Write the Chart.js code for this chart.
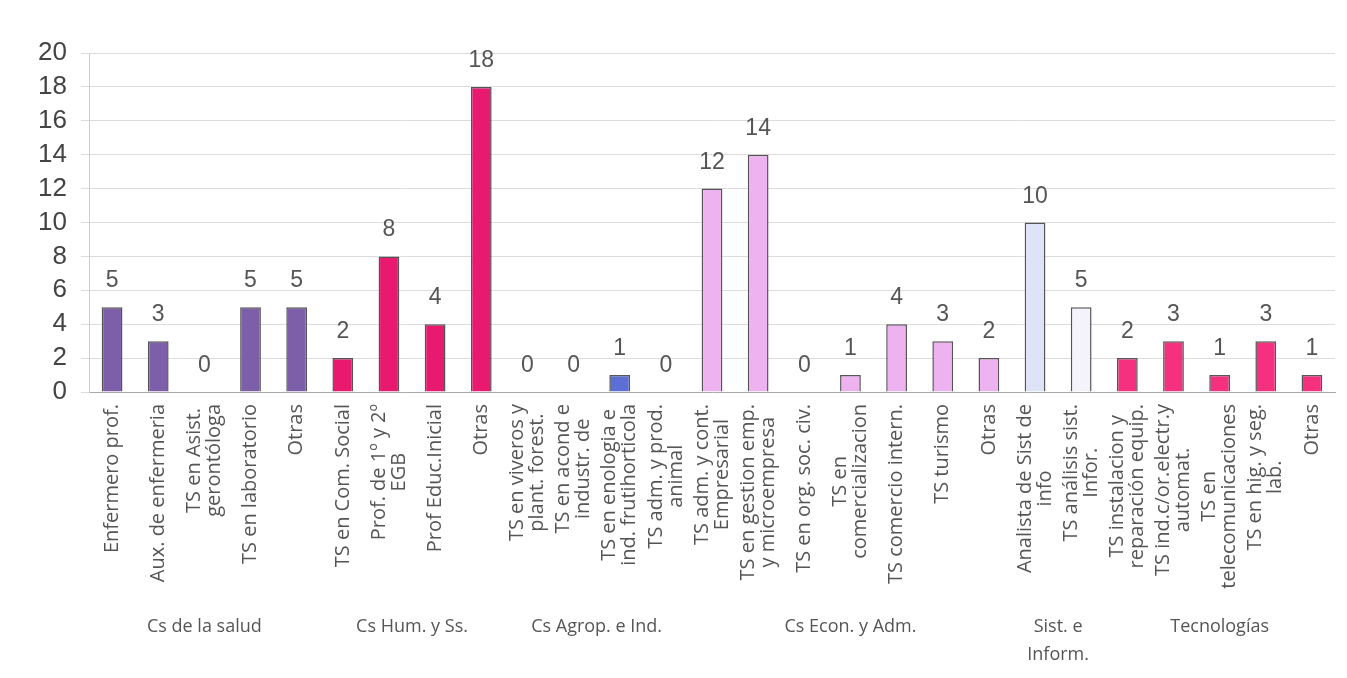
<!DOCTYPE html>
<html lang="es">
<head>
  <meta charset="UTF-8" />
  <title>Carreras por area</title>
  <script src="https://cdn.jsdelivr.net/npm/chart.js"></script>
  <style>
    body {
      margin: 0;
      background: #fff;
    }
    .chart-wrap {
      width: 1347px;
      height: 678px;
      position: relative;
    }
  </style>
</head>
<body>
  <div class="chart-wrap">
    <canvas id="areasChart"></canvas>
  </div>

  <script>
    // categorias (etiquetas del eje x, con saltos de linea como en el original)
    const categories = [
      'Enfermero prof.', 'Aux. de enfermeria', ['TS en Asist.', 'gerontóloga'], 'TS en laboratorio', 'Otras',
      'TS en Com. Social', ['Prof. de 1º y 2º', 'EGB'], 'Prof Educ.Inicial', 'Otras',
      ['TS en viveros y', 'plant. forest.'], ['TS en acond e', 'industr. de'], ['TS en enologia e', 'ind. frutihorticola'], ['TS adm. y prod.', 'animal'],
      ['TS adm. y cont.', 'Empresarial'], ['TS en gestion emp.', 'y microempresa'], 'TS en org. soc. civ.', ['TS en', 'comercializacion'], 'TS comercio intern.', 'TS turismo', 'Otras',
      ['Analista de Sist de', 'info'], ['TS análisis sist.', 'Infor.'],
      ['TS instalacion y', 'reparación equip.'], ['TS ind.c/or.electr.y', 'automat.'], ['TS en', 'telecomunicaciones'], ['TS en hig. y seg.', 'lab.'], 'Otras'
    ];
    const values = [5, 3, 0, 5, 5, 2, 8, 4, 18, 0, 0, 1, 0, 12, 14, 0, 1, 4, 3, 2, 10, 5, 2, 3, 1, 3, 1];
    const groups = ['Cs de la salud', 'Cs Hum. y Ss.', 'Cs Agrop. e Ind.', 'Cs Econ. y Adm.', ['Sist. e', 'Inform.'], 'Tecnologías'];
    const groupSizes = [5, 4, 4, 7, 2, 5];
    const yTicks = [0, 2, 4, 6, 8, 10, 12, 14, 16, 18, 20];

    // colores por barra
    const fills = [
      '#7d5fa9', '#7d5fa9', '#7d5fa9', '#7d5fa9', '#7d5fa9',
      '#e9196f', '#e9196f', '#e9196f', '#e9196f',
      '#5b6fd6', '#5b6fd6', '#5b6fd6', '#5b6fd6',
      '#eeb2f1', '#eeb2f1', '#eeb2f1', '#eeb2f1', '#eeb2f1', '#eeb2f1', '#eeb2f1',
      '#dfe3f7', '#f4f2fa',
      '#f5307e', '#f5307e', '#f5307e', '#f5307e', '#f5307e'
    ];
    const borders = fills.map(c => '#555');

    const valueLabels = {
      id: 'valueLabels',
      afterDatasetsDraw(chart) {
        const ctx = chart.ctx;
        const meta = chart.getDatasetMeta(0);
        ctx.save();
        ctx.font = '23px "Liberation Sans"';
        ctx.fillStyle = '#555';
        ctx.textAlign = 'center';
        ctx.textBaseline = 'alphabetic';
        meta.data.forEach((bar, i) => {
          ctx.fillText(String(values[i]), bar.x, bar.y - 20);
        });
        ctx.restore();
      }
    };

    // etiquetas verticales: lineas centradas entre si, bloque pegado al eje
    const categoryLabels = {
      id: 'categoryLabels',
      afterDraw(chart) {
        const ctx = chart.ctx;
        const xs = chart.scales.x;
        const top = chart.chartArea.bottom + 12;
        const lineH = 20;
        ctx.save();
        ctx.font = '20px "Open Sans"';
        ctx.fillStyle = '#555';
        ctx.textAlign = 'center';
        ctx.textBaseline = 'middle';
        categories.forEach((c, i) => {
          const lines = Array.isArray(c) ? c : [c];
          const w = Math.max(...lines.map(l => ctx.measureText(l).width));
          const x = xs.getPixelForValue(i);
          lines.forEach((line, j) => {
            ctx.save();
            ctx.translate(x + (j - (lines.length - 1) / 2) * lineH, top + w / 2);
            ctx.rotate(-Math.PI / 2);
            ctx.fillText(line, 0, 0);
            ctx.restore();
          });
        });
        ctx.restore();
      }
    };

    const groupLabels = {
      id: 'groupLabels',
      afterDraw(chart) {
        const ctx = chart.ctx;
        const xs = chart.scales.x;
        ctx.save();
        ctx.font = '18px "Open Sans"';
        ctx.fillStyle = '#555';
        ctx.textAlign = 'center';
        ctx.textBaseline = 'middle';
        let start = 0;
        groups.forEach((g, gi) => {
          const end = start + groupSizes[gi] - 1;
          const mid = (xs.getPixelForValue(start) + xs.getPixelForValue(end)) / 2;
          const lines = Array.isArray(g) ? g : [g];
          lines.forEach((line, li) => {
            ctx.fillText(line, mid, 627 + li * 28);
          });
          start = end + 1;
        });
        ctx.restore();
      }
    };

    const ctx = document.getElementById('areasChart').getContext('2d');
    new Chart(ctx, {
      type: 'bar',
      data: {
        labels: categories,
        datasets: [{
          data: values,
          backgroundColor: fills,
          borderColor: borders,
          borderWidth: 1.5,
          barPercentage: 0.45,
          categoryPercentage: 1
        }]
      },
      options: {
        responsive: true,
        maintainAspectRatio: false,
        animation: false,
        layout: {
          padding: { top: 53, right: 12, bottom: 88, left: 0 }
        },
        plugins: {
          legend: { display: false },
          tooltip: { enabled: false }
        },
        scales: {
          x: {
            grid: { display: false },
            border: { color: '#aaa' },
            ticks: { display: false },
            afterFit(scale) { scale.height = 198; }
          },
          y: {
            min: 0,
            max: 20,
            afterBuildTicks(scale) { scale.ticks = yTicks.map(v => ({ value: v })); },
            grid: { color: '#dcdcdc', tickLength: 8 },
            border: { color: '#ccc' },
            ticks: {
              autoSkip: false,
              color: '#444',
              padding: 14,
              font: { family: '"Liberation Sans"', size: 26, lineHeight: 1 }
            },
            afterFit(scale) { scale.width = 89; }
          }
        }
      },
      plugins: [valueLabels, categoryLabels, groupLabels]
    });
  </script>
</body>
</html>
